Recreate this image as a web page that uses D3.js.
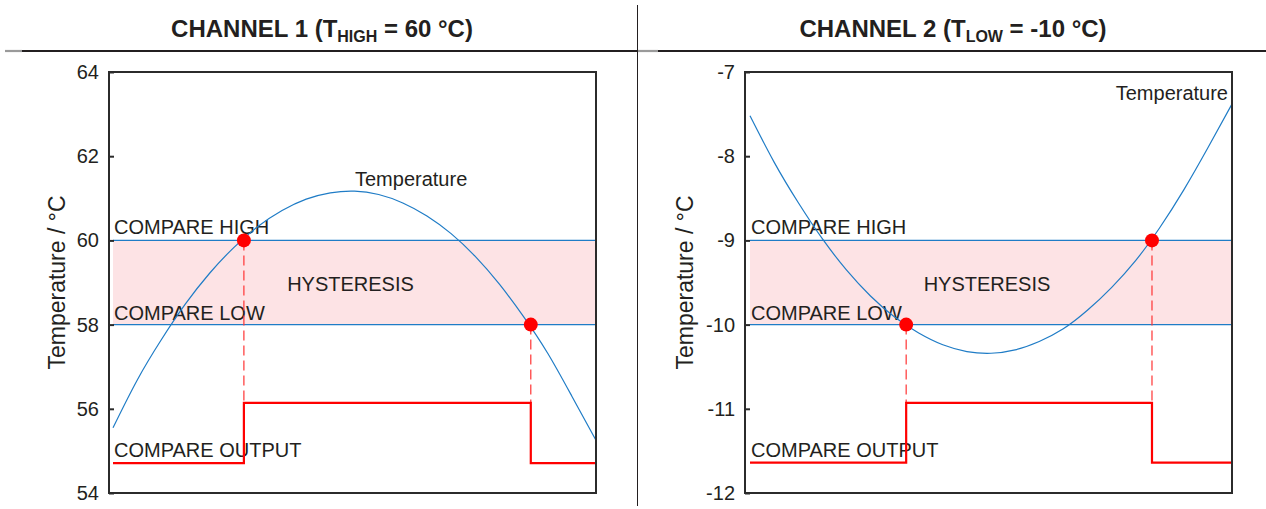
<!DOCTYPE html>
<html>
<head>
<meta charset="utf-8">
<script src="https://cdn.jsdelivr.net/npm/d3@7"></script>
<style>
	body { margin: 0; background: #fff; }
	svg { display: block; font-family: 'Liberation Sans', Arial, sans-serif; }
	text { fill: #231f20; }
	.frame { fill: none; stroke: #2b2b2b; stroke-width: 2; }
	.tick line { stroke: #2b2b2b; stroke-width: 2; }
	.tick text { font-size: 20px; }
	.axis .domain { display: none; }
</style>
</head>
<body>
<svg width="1266" height="509"></svg>
<script>
// time axis (arbitrary units, 0..100 across the plot)
const time = [0, 5, 10, 15, 20, 25, 30, 35, 40, 45, 50, 55, 60, 65, 70, 75, 80, 85, 90, 95, 100]

// channel 1 : T_HIGH = 60 °C
const ch1Temp = [55.55, 56.68, 57.64, 58.49, 59.22, 59.83, 60.33, 60.71, 60.98, 61.13, 61.17,
	61.09, 60.89, 60.58, 60.16, 59.62, 58.96, 58.19, 57.32, 56.30, 55.25]
const ch1Ticks = [54, 56, 58, 60, 62, 64]
const ch1Thresholds = [58, 60] // compare low, compare high
const ch1Switch = [27.1, 86.5] // output goes high, output goes low
const ch1SwitchTemp = [60, 58]
const ch1Output = [54.71, 56.14] // low level, high level

// channel 2 : T_LOW = -10 °C
const ch2Temp = [-7.52, -8.07, -8.55, -8.98, -9.35, -9.66, -9.91, -10.10, -10.24, -10.32, -10.34,
	-10.30, -10.20, -10.05, -9.83, -9.56, -9.24, -8.85, -8.40, -7.90, -7.38]
const ch2Ticks = [-12, -11, -10, -9, -8, -7]
const ch2Thresholds = [-10, -9]
const ch2Switch = [32.4, 83.4]
const ch2SwitchTemp = [-10, -9]
const ch2Output = [-11.64, -10.93]

const svg = d3.select('svg')
const blue = '#1f7cc6'
const red = '#ff0000'

const panels = [
	{ title: ['CHANNEL 1 (T', 'HIGH', ' = 60 °C)'], temp: ch1Temp, ticks: ch1Ticks, thr: ch1Thresholds,
		sw: ch1Switch, swT: ch1SwitchTemp, out: ch1Output, left: 109, x0: 113, x1: 596, cx: 322, yTitle: 65,
		tempLabel: { x: 355, y: 186, anchor: 'start' } },
	{ title: ['CHANNEL 2 (T', 'LOW', ' = -10 °C)'], temp: ch2Temp, ticks: ch2Ticks, thr: ch2Thresholds,
		sw: ch2Switch, swT: ch2SwitchTemp, out: ch2Output, left: 745, x0: 750, x1: 1232, cx: 953, yTitle: 693,
		tempLabel: { x: 1228, y: 100, anchor: 'end' } }
]

// header rule + divider
svg.append('line').attr('x1', 5).attr('x2', 1266).attr('y1', 51).attr('y2', 51)
	.attr('stroke', '#231f20').attr('stroke-width', 2.2)
svg.append('line').attr('x1', 5).attr('x2', 22).attr('y1', 51).attr('y2', 51)
	.attr('stroke', '#9a9a9a').attr('stroke-width', 2.2)
svg.append('line').attr('x1', 638).attr('x2', 658).attr('y1', 51).attr('y2', 51)
	.attr('stroke', '#9a9a9a').attr('stroke-width', 2.2)
svg.append('line').attr('x1', 637.5).attr('x2', 637.5).attr('y1', 5).attr('y2', 506)
	.attr('stroke', '#231f20').attr('stroke-width', 1)

panels.forEach(p => {
	const g = svg.append('g')
	const x = d3.scaleLinear().domain([0, 100]).range([p.x0, p.x1])
	const y = d3.scaleLinear().domain(d3.extent(p.ticks)).range([493, 72])

	// title
	const t = g.append('text')
		.attr('x', p.cx).attr('y', 37)
		.attr('text-anchor', 'middle')
		.style('font-size', '24px').style('font-weight', 'bold')
	t.append('tspan').text(p.title[0])
	t.append('tspan').attr('dy', 5).style('font-size', '16px').text(p.title[1])
	t.append('tspan').attr('dy', -5).text(p.title[2])

	// hysteresis band
	g.append('rect')
		.attr('x', x(0)).attr('width', x(100) - x(0))
		.attr('y', y(p.thr[1])).attr('height', y(p.thr[0]) - y(p.thr[1]))
		.attr('fill', '#fde3e5')
	g.selectAll('line.thr').data(p.thr).enter()
		.append('line').attr('class', 'thr')
		.attr('x1', x(0)).attr('x2', x(100))
		.attr('y1', d => y(d)).attr('y2', d => y(d))
		.attr('stroke', blue).attr('stroke-width', 1.2)

	// labels
	g.append('text').attr('x', x(0) + 1).attr('y', y(p.thr[1]) - 6)
		.style('font-size', '20px').text('COMPARE HIGH')
	g.append('text').attr('x', x(0) + 1).attr('y', y(p.thr[0]) - 5)
		.style('font-size', '20px').text('COMPARE LOW')
	g.append('text').attr('x', (x(0) + x(100)) / 2 - 4).attr('y', y(d3.mean(p.thr)) + 8)
		.attr('text-anchor', 'middle').style('font-size', '20px').text('HYSTERESIS')
	g.append('text').attr('x', x(0) + 1).attr('y', y(p.out[0]) - 6)
		.style('font-size', '20px').text('COMPARE OUTPUT')
	g.append('text').attr('x', p.tempLabel.x).attr('y', p.tempLabel.y)
		.attr('text-anchor', p.tempLabel.anchor).style('font-size', '20px').text('Temperature')

	// temperature curve
	g.append('path')
		.datum(time.map((d, i) => [d, p.temp[i]]))
		.attr('fill', 'none').attr('stroke', blue).attr('stroke-width', 1.2)
		.attr('d', d3.line().x(d => x(d[0])).y(d => y(d[1])).curve(d3.curveNatural))

	// dashed drop lines
	g.selectAll('line.drop').data(p.sw).enter()
		.append('line').attr('class', 'drop')
		.attr('x1', d => x(d)).attr('x2', d => x(d))
		.attr('y1', (d, i) => y(p.swT[i])).attr('y2', y(p.out[1]))
		.attr('stroke', '#f33').attr('stroke-width', 1.2).attr('stroke-dasharray', '10,5')

	// compare output
	const steps = [[0, p.out[0]], [p.sw[0], p.out[0]], [p.sw[0], p.out[1]],
		[p.sw[1], p.out[1]], [p.sw[1], p.out[0]], [100, p.out[0]]]
	g.append('path').datum(steps)
		.attr('fill', 'none').attr('stroke', red).attr('stroke-width', 2.2)
		.attr('d', d3.line().x(d => x(d[0])).y(d => y(d[1])))

	// switching points
	g.selectAll('circle').data(p.sw).enter()
		.append('circle')
		.attr('cx', d => x(d)).attr('cy', (d, i) => y(p.swT[i]))
		.attr('r', 7).attr('fill', red)

	// frame + axis
	g.append('rect').attr('class', 'frame')
		.attr('x', p.left).attr('y', 72).attr('width', p.x1 - p.left).attr('height', 421)
	g.append('g').attr('class', 'axis')
		.attr('transform', `translate(${p.left},0)`)
		.call(d3.axisLeft(y).tickValues(p.ticks).tickFormat(d => String(d))
			.tickSizeInner(-5).tickSizeOuter(0).tickPadding(10))

	g.append('text')
		.attr('transform', `translate(${p.yTitle},${(72 + 493) / 2}) rotate(-90)`)
		.attr('text-anchor', 'middle').style('font-size', '23px')
		.text('Temperature / °C')
})
</script>
</body>
</html>
